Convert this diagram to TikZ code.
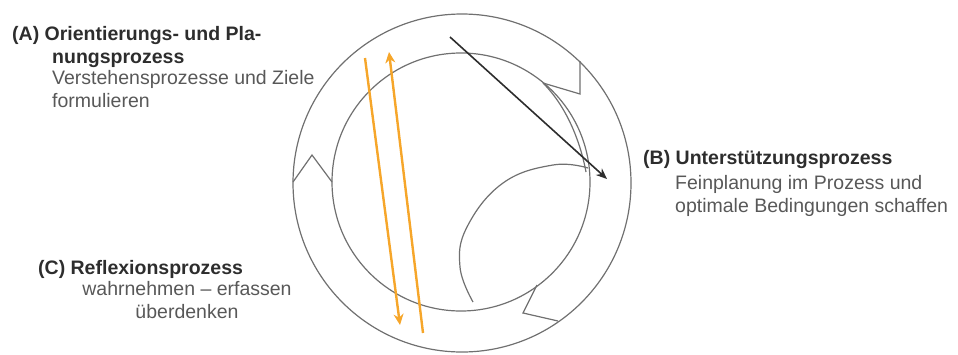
\documentclass[tikz,border=0pt]{standalone}
\usepackage{fontspec}
\setmainfont{Liberation Sans}
\usetikzlibrary{arrows.meta,positioning}

\definecolor{ringgray}{RGB}{112,112,112}
\definecolor{headgray}{RGB}{45,45,45}
\definecolor{bodygray}{RGB}{88,88,88}
\definecolor{cycleorange}{RGB}{246,166,42}

\tikzset{
  heading/.style={inner sep=0pt, text=headgray, font=\fontsize{19.5}{22.2}\selectfont\bfseries},
  bodytext/.style={inner sep=0pt, text=bodygray, font=\fontsize{19.5}{22.2}\selectfont},
  ring/.style={draw=ringgray, line width=1.2pt},
  orangearrow/.style={draw=cycleorange, line width=2.4pt, -{Stealth[length=11pt,width=10pt]}},
  darkarrow/.style={draw=headgray, line width=1.6pt, -{Stealth[length=11pt,width=9pt]}}
}

\begin{document}
\begin{tikzpicture}[x=1pt,y=-1pt]
    \useasboundingbox (0,0) rectangle (958,354);

    % the cycle
    \coordinate (O) at (462,183);
    \coordinate (I) at (461,182);
    \draw[ring] (O) circle [radius=169];
    \draw[ring] (I) circle [radius=129];
    \draw[ring] (580,61) -- (580,94) -- (543,83);
    \draw[ring] (543,83) .. controls (566,106) and (580,140) .. (586,172);
    \draw[ring] (293,182) -- (312,155) -- (332,182);
    \draw[ring] (537,285) -- (523,313) -- (558,321);
    \draw[ring] plot[smooth, tension=0.7] coordinates {(473,302) (460,267) (467,227) (503,183) (553,165) (588,168)};

    % arrows
    \coordinate (k1) at (450,37);
    \coordinate (k2) at (607,179);
    \coordinate (o1) at (365,58);
    \coordinate (o2) at (400,325);
    \coordinate (o3) at (423,333);
    \coordinate (o4) at (389,52);
    \path[darkarrow] (k1) -- (k2);
    \path[orangearrow] (o1) -- (o2);
    \path[orangearrow] (o3) -- (o4);

    % labels (base = last line)
    \node (A) [heading, anchor=base west] at (12,40) {(A) Orientierungs- und Pla-};
    \node (A2) [heading, anchor=base west] at (52,63) {nungsprozess};
    \node (A3) [bodytext, anchor=base west, align=left] at (52,107) {Verstehensprozesse und Ziele\\formulieren};

    \node (B) [heading, anchor=base west] at (643,164) {(B) Unterstützungsprozess};
    \node (B2) [bodytext, anchor=base west, align=left] at (675,212) {Feinplanung im Prozess und\\optimale Bedingungen schaffen};

    \node (C) [heading, anchor=base west] at (38,274) {(C) Reflexionsprozess};
    \node (C2) [bodytext, anchor=base, align=center] at (187,318) {wahrnehmen – erfassen\\überdenken};
\end{tikzpicture}
\end{document}
